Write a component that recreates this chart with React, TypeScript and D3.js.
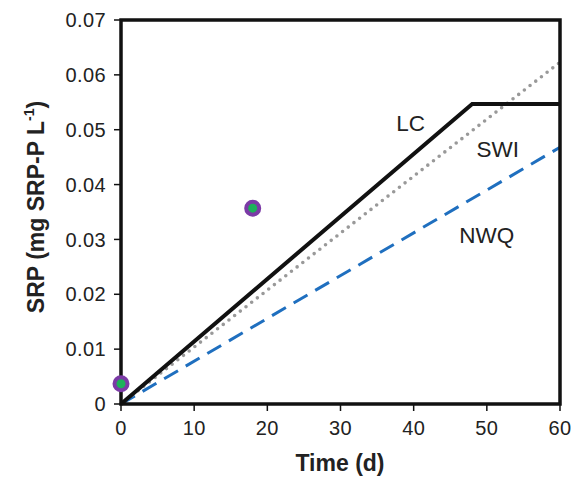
import React from 'react';
import * as d3 from 'd3';

// time (d) and SRP (mg SRP-P/L)
const lcDays = [0, 48, 60];
const lcSrp = [0, 0.0547, 0.0547];
const swiDays = [0, 60];
const swiSrp = [0, 0.0623];
const nwqDays = [0, 60];
const nwqSrp = [0, 0.0468];
const obsDays = [0, 18];
const obsSrp = [0.0037, 0.0357];

const xTicks = [0, 10, 20, 30, 40, 50, 60];
const yTicks = [0, 0.01, 0.02, 0.03, 0.04, 0.05, 0.06, 0.07];

const labels = [
  { text: 'LC', day: 39.6, srp: 0.0498 },
  { text: 'SWI', day: 51.5, srp: 0.045 },
  { text: 'NWQ', day: 50.0, srp: 0.0294 },
];

const W = 583;
const H = 478;
const m = { left: 121, right: 23, top: 20, bottom: 74 };
const FONT = 'Liberation Sans, Arial, Helvetica, sans-serif';

const App = () => {
  const x = d3.scaleLinear().domain([0, 60]).range([m.left, W - m.right]);
  const y = d3.scaleLinear().domain([0, 0.07]).range([H - m.bottom, m.top]);

  const line = d3
    .line<[number, number]>()
    .x(d => x(d[0]))
    .y(d => y(d[1]));

  const pts = (days: number[], vals: number[]) =>
    days.map((d, i) => [d, vals[i]] as [number, number]);

  const x0 = x(0), x1 = x(60), y0 = y(0), y1 = y(0.07);

  return (
    <svg width={W} height={H} style={{ position: 'absolute', left: 0, top: 0, background: '#fff' }}>
      <g fontFamily={FONT}>
        {/* series */}
        <path d={line(pts(nwqDays, nwqSrp)) || ''} fill="none" stroke="#1f6fbf" strokeWidth={3} strokeDasharray="16,9" />
        <path d={line(pts(swiDays, swiSrp)) || ''} fill="none" stroke="#999" strokeWidth={3.6} strokeDasharray="0,7.2" strokeLinecap="round" />
        <path d={line(pts(lcDays, lcSrp)) || ''} fill="none" stroke="#111" strokeWidth={4} />

        {/* frame */}
        <rect x={x0} y={y1} width={x1 - x0} height={y0 - y1} fill="none" stroke="#111" strokeWidth={3.5} />

        {/* observations */}
        {obsDays.map((d, i) => (
          <circle key={i} cx={x(d)} cy={y(obsSrp[i])} r={6.5} fill="#1db15a" stroke="#7b3aa6" strokeWidth={4} />
        ))}

        {/* y axis */}
        {yTicks.map(t => (
          <g key={t}>
            <line x1={x0 - 7} x2={x0} y1={y(t)} y2={y(t)} stroke="#111" strokeWidth={1.5} />
            <text x={x0 - 15} y={y(t)} dy="0.36em" textAnchor="end" fontSize={20} letterSpacing={0.4} fill="#222">
              {t === 0 ? '0' : t.toFixed(2)}
            </text>
          </g>
        ))}

        {/* x axis */}
        {xTicks.map(t => (
          <g key={t}>
            <line x1={x(t)} x2={x(t)} y1={y0} y2={y0 + 7} stroke="#111" strokeWidth={1.5} />
            <text x={x(t)} y={y0 + 31} textAnchor="middle" fontSize={20} letterSpacing={0.4} fill="#222">
              {t}
            </text>
          </g>
        ))}

        {/* line labels */}
        {labels.map(l => (
          <text key={l.text} x={x(l.day)} y={y(l.srp)} textAnchor="middle" fontSize={22.5} fill="#222">
            {l.text}
          </text>
        ))}

        {/* titles */}
        <text x={340} y={471} textAnchor="middle" fontSize={23} fontWeight="bold" fill="#222">
          Time (d)
        </text>
        <text
          transform={`translate(44,207) rotate(-90)`}
          textAnchor="middle"
          fontSize={23}
          fontWeight="bold"
          fill="#222"
        >
          SRP (mg SRP-P L
          <tspan fontSize={14} dy={-10}>-1</tspan>
          <tspan dy={10}>)</tspan>
        </text>
      </g>
    </svg>
  );
};

export default App;
